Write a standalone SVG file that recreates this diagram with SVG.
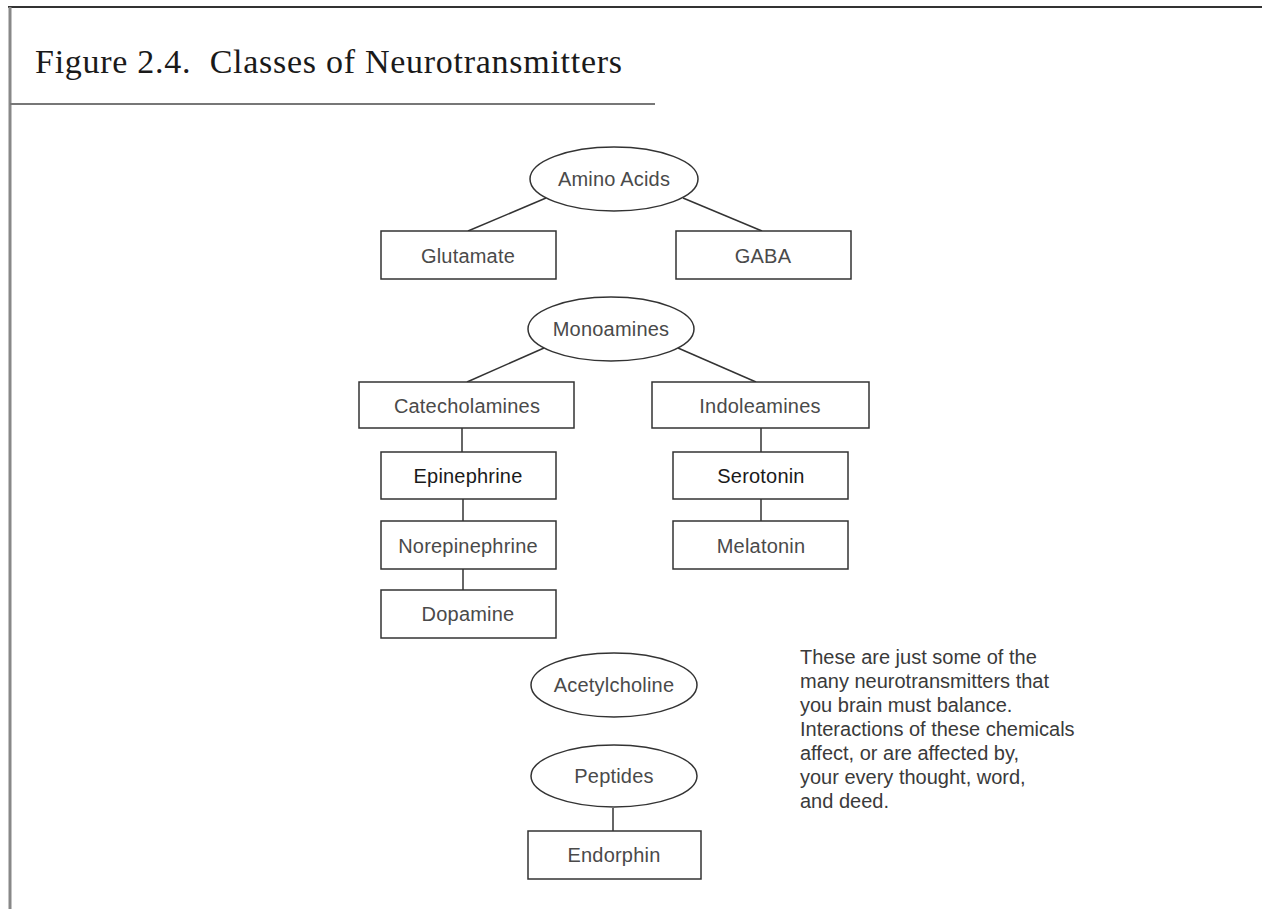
<svg xmlns="http://www.w3.org/2000/svg" width="1262" height="909" viewBox="0 0 1262 909">
<style>
.node{fill:#fff;stroke:#333;stroke-width:1.5}
.lbl{font-family:"Liberation Sans",Arial,sans-serif;font-size:20px;letter-spacing:0.2px;fill:#4a4a4a;text-anchor:middle}
.dark{fill:#1a1a1a}
.edge{stroke:#333;stroke-width:1.5;fill:none}
.note{font-family:"Liberation Sans",Arial,sans-serif;font-size:20px;fill:#3a3a3a}
</style>
<rect width="1262" height="909" fill="#fff"/>
<g id="frame">
<line x1="8" y1="7" x2="1262" y2="7" stroke="#333" stroke-width="2"/>
<line x1="10" y1="7" x2="10" y2="909" stroke="#888" stroke-width="3"/>
<line x1="10" y1="104" x2="655" y2="104" stroke="#777" stroke-width="2"/>
</g>
<text id="title" x="35" y="73" xml:space="preserve" font-family="'Liberation Serif','Times New Roman',serif" font-size="34" textLength="587" lengthAdjust="spacing" fill="#1a1a1a">Figure 2.4.  Classes of Neurotransmitters</text>
<g id="connectors">
<line class="edge" x1="546" y1="198" x2="468" y2="231"/>
<line class="edge" x1="683" y1="198" x2="762" y2="231"/>
<line class="edge" x1="544" y1="348" x2="467" y2="382"/>
<line class="edge" x1="678" y1="348" x2="756" y2="382"/>
<line class="edge" x1="462" y1="428" x2="462" y2="452"/>
<line class="edge" x1="761" y1="428" x2="761" y2="452"/>
<line class="edge" x1="463" y1="499" x2="463" y2="521"/>
<line class="edge" x1="761" y1="499" x2="761" y2="521"/>
<line class="edge" x1="463" y1="569" x2="463" y2="590"/>
<line class="edge" x1="613" y1="808" x2="613" y2="831"/>
</g>
<g id="amino-acids"><ellipse class="node" cx="614" cy="179" rx="84" ry="32"/><text class="lbl" x="614" y="186">Amino Acids</text></g>
<g id="glutamate"><rect class="node" x="381" y="231" width="175" height="48"/><text class="lbl" x="468" y="263">Glutamate</text></g>
<g id="gaba"><rect class="node" x="676" y="231" width="175" height="48"/><text class="lbl" x="763" y="263">GABA</text></g>
<g id="monoamines"><ellipse class="node" cx="611" cy="329" rx="83" ry="32"/><text class="lbl" x="611" y="336">Monoamines</text></g>
<g id="catecholamines"><rect class="node" x="359" y="382" width="215" height="46"/><text class="lbl" x="467" y="413">Catecholamines</text></g>
<g id="indoleamines"><rect class="node" x="652" y="382" width="217" height="46"/><text class="lbl" x="760" y="413">Indoleamines</text></g>
<g id="epinephrine"><rect class="node" x="381" y="452" width="175" height="47"/><text class="lbl dark" x="468" y="483">Epinephrine</text></g>
<g id="serotonin"><rect class="node" x="673" y="452" width="175" height="47"/><text class="lbl dark" x="761" y="483">Serotonin</text></g>
<g id="norepinephrine"><rect class="node" x="381" y="521" width="175" height="48"/><text class="lbl" x="468" y="553">Norepinephrine</text></g>
<g id="melatonin"><rect class="node" x="673" y="521" width="175" height="48"/><text class="lbl" x="761" y="553">Melatonin</text></g>
<g id="dopamine"><rect class="node" x="381" y="590" width="175" height="48"/><text class="lbl" x="468" y="621">Dopamine</text></g>
<g id="acetylcholine"><ellipse class="node" cx="614" cy="685" rx="83" ry="32"/><text class="lbl" x="614" y="692">Acetylcholine</text></g>
<g id="peptides"><ellipse class="node" cx="614" cy="776" rx="83" ry="31"/><text class="lbl" x="614" y="783">Peptides</text></g>
<g id="endorphin"><rect class="node" x="528" y="831" width="173" height="48"/><text class="lbl" x="614" y="862">Endorphin</text></g>
<text id="note" class="note">
<tspan x="800" y="664">These are just some of the</tspan>
<tspan x="800" y="688">many neurotransmitters that</tspan>
<tspan x="800" y="712">you brain must balance.</tspan>
<tspan x="800" y="736">Interactions of these chemicals</tspan>
<tspan x="800" y="760">affect, or are affected by,</tspan>
<tspan x="800" y="784">your every thought, word,</tspan>
<tspan x="800" y="808">and deed.</tspan>
</text>
</svg>
